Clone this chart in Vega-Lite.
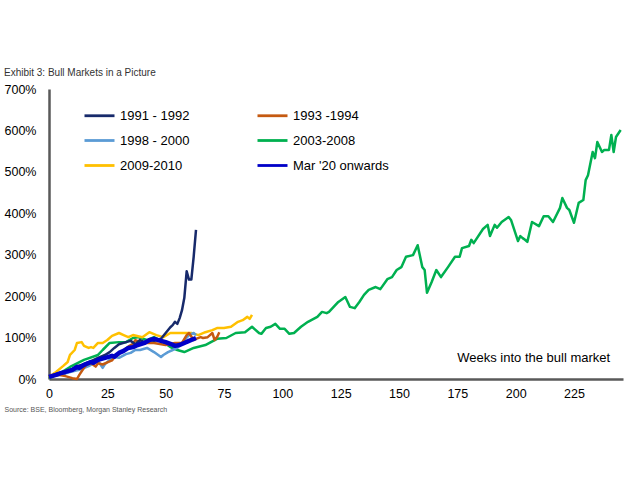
{
  "$schema": "https://vega.github.io/schema/vega-lite/v6.json",
  "width": 574,
  "height": 290,
  "autosize": {"type": "none"},
  "padding": {"left": 49, "top": 89, "right": 17, "bottom": 99},
  "background": "white",
  "title": {"text": "Exhibit 3:  Bull Markets in a Picture", "anchor": "start", "frame": "bounds", "offset": 5, "fontSize": 10, "fontWeight": "normal", "color": "#333333", "font": "Liberation Sans"},
  "config": {"view": {"stroke": null}, "font": "Liberation Sans"},
  "datasets": {
    "lines": [
      {"s":"2003-2008","w":0,"v":2},{"s":"2003-2008","w":5,"v":15},{"s":"2003-2008","w":9,"v":29},{"s":"2003-2008","w":15,"v":46},{"s":"2003-2008","w":21,"v":58},{"s":"2003-2008","w":23,"v":70},{"s":"2003-2008","w":26,"v":87},{"s":"2003-2008","w":30,"v":89},{"s":"2003-2008","w":33,"v":89},{"s":"2003-2008","w":36,"v":99},{"s":"2003-2008","w":38,"v":101},{"s":"2003-2008","w":42,"v":94},{"s":"2003-2008","w":45,"v":101},{"s":"2003-2008","w":49,"v":89},{"s":"2003-2008","w":52,"v":77},{"s":"2003-2008","w":55,"v":70},{"s":"2003-2008","w":58,"v":65},{"s":"2003-2008","w":62,"v":75},{"s":"2003-2008","w":67,"v":82},{"s":"2003-2008","w":72,"v":97},{"s":"2003-2008","w":76,"v":99},{"s":"2003-2008","w":80,"v":111},{"s":"2003-2008","w":84,"v":113},{"s":"2003-2008","w":87,"v":126},{"s":"2003-2008","w":90,"v":111},{"s":"2003-2008","w":91,"v":109},{"s":"2003-2008","w":93,"v":123},{"s":"2003-2008","w":95,"v":126},{"s":"2003-2008","w":97,"v":133},{"s":"2003-2008","w":99,"v":121},{"s":"2003-2008","w":101,"v":121},{"s":"2003-2008","w":103,"v":109},{"s":"2003-2008","w":105,"v":111},{"s":"2003-2008","w":108,"v":126},{"s":"2003-2008","w":111,"v":138},{"s":"2003-2008","w":115,"v":150},{"s":"2003-2008","w":117,"v":162},{"s":"2003-2008","w":119,"v":159},{"s":"2003-2008","w":120,"v":162},{"s":"2003-2008","w":124,"v":186},{"s":"2003-2008","w":127,"v":198},{"s":"2003-2008","w":129,"v":174},{"s":"2003-2008","w":131,"v":171},{"s":"2003-2008","w":133,"v":186},{"s":"2003-2008","w":135,"v":203},{"s":"2003-2008","w":137,"v":215},{"s":"2003-2008","w":140,"v":222},{"s":"2003-2008","w":142,"v":217},{"s":"2003-2008","w":145,"v":241},{"s":"2003-2008","w":147,"v":246},{"s":"2003-2008","w":149,"v":263},{"s":"2003-2008","w":151,"v":270},{"s":"2003-2008","w":153,"v":295},{"s":"2003-2008","w":156,"v":299},{"s":"2003-2008","w":158,"v":323},{"s":"2003-2008","w":160,"v":270},{"s":"2003-2008","w":161,"v":263},{"s":"2003-2008","w":162,"v":208},{"s":"2003-2008","w":164,"v":234},{"s":"2003-2008","w":166,"v":263},{"s":"2003-2008","w":168,"v":246},{"s":"2003-2008","w":171,"v":270},{"s":"2003-2008","w":174,"v":295},{"s":"2003-2008","w":176,"v":295},{"s":"2003-2008","w":177,"v":316},{"s":"2003-2008","w":180,"v":321},{"s":"2003-2008","w":181,"v":336},{"s":"2003-2008","w":182,"v":328},{"s":"2003-2008","w":186,"v":362},{"s":"2003-2008","w":188,"v":372},{"s":"2003-2008","w":189,"v":345},{"s":"2003-2008","w":191,"v":372},{"s":"2003-2008","w":192,"v":365},{"s":"2003-2008","w":194,"v":379},{"s":"2003-2008","w":197,"v":391},{"s":"2003-2008","w":198,"v":384},{"s":"2003-2008","w":201,"v":333},{"s":"2003-2008","w":202,"v":345},{"s":"2003-2008","w":203,"v":340},{"s":"2003-2008","w":204,"v":336},{"s":"2003-2008","w":205,"v":331},{"s":"2003-2008","w":207,"v":379},{"s":"2003-2008","w":210,"v":369},{"s":"2003-2008","w":212,"v":393},{"s":"2003-2008","w":214,"v":393},{"s":"2003-2008","w":216,"v":379},{"s":"2003-2008","w":219,"v":413},{"s":"2003-2008","w":220,"v":437},{"s":"2003-2008","w":222,"v":413},{"s":"2003-2008","w":223,"v":408},{"s":"2003-2008","w":225,"v":377},{"s":"2003-2008","w":227,"v":425},{"s":"2003-2008","w":229,"v":432},{"s":"2003-2008","w":230,"v":480},{"s":"2003-2008","w":231,"v":492},{"s":"2003-2008","w":233,"v":548},{"s":"2003-2008","w":234,"v":533},{"s":"2003-2008","w":235,"v":572},{"s":"2003-2008","w":237,"v":548},{"s":"2003-2008","w":238,"v":553},{"s":"2003-2008","w":240,"v":553},{"s":"2003-2008","w":241,"v":589},{"s":"2003-2008","w":242,"v":548},{"s":"2003-2008","w":243,"v":584},{"s":"2003-2008","w":245,"v":601},

      {"s":"2009-2010","w":0,"v":5},{"s":"2009-2010","w":3,"v":17},{"s":"2009-2010","w":6,"v":31},{"s":"2009-2010","w":8,"v":41},{"s":"2009-2010","w":9,"v":58},{"s":"2009-2010","w":11,"v":70},{"s":"2009-2010","w":12,"v":87},{"s":"2009-2010","w":14,"v":89},{"s":"2009-2010","w":15,"v":80},{"s":"2009-2010","w":17,"v":75},{"s":"2009-2010","w":18,"v":77},{"s":"2009-2010","w":19,"v":75},{"s":"2009-2010","w":21,"v":87},{"s":"2009-2010","w":23,"v":87},{"s":"2009-2010","w":25,"v":94},{"s":"2009-2010","w":27,"v":104},{"s":"2009-2010","w":30,"v":111},{"s":"2009-2010","w":32,"v":106},{"s":"2009-2010","w":34,"v":101},{"s":"2009-2010","w":36,"v":106},{"s":"2009-2010","w":40,"v":101},{"s":"2009-2010","w":43,"v":113},{"s":"2009-2010","w":46,"v":106},{"s":"2009-2010","w":49,"v":101},{"s":"2009-2010","w":52,"v":111},{"s":"2009-2010","w":55,"v":111},{"s":"2009-2010","w":58,"v":111},{"s":"2009-2010","w":61,"v":111},{"s":"2009-2010","w":64,"v":106},{"s":"2009-2010","w":67,"v":113},{"s":"2009-2010","w":70,"v":118},{"s":"2009-2010","w":72,"v":123},{"s":"2009-2010","w":75,"v":123},{"s":"2009-2010","w":78,"v":126},{"s":"2009-2010","w":81,"v":138},{"s":"2009-2010","w":83,"v":142},{"s":"2009-2010","w":85,"v":150},{"s":"2009-2010","w":86,"v":145},{"s":"2009-2010","w":87,"v":155},

      {"s":"1998 - 2000","w":0,"v":5},{"s":"1998 - 2000","w":5,"v":10},{"s":"1998 - 2000","w":9,"v":17},{"s":"1998 - 2000","w":13,"v":22},{"s":"1998 - 2000","w":17,"v":31},{"s":"1998 - 2000","w":20,"v":41},{"s":"1998 - 2000","w":21,"v":44},{"s":"1998 - 2000","w":23,"v":27},{"s":"1998 - 2000","w":24,"v":36},{"s":"1998 - 2000","w":26,"v":46},{"s":"1998 - 2000","w":28,"v":53},{"s":"1998 - 2000","w":30,"v":51},{"s":"1998 - 2000","w":33,"v":60},{"s":"1998 - 2000","w":35,"v":63},{"s":"1998 - 2000","w":37,"v":70},{"s":"1998 - 2000","w":39,"v":70},{"s":"1998 - 2000","w":42,"v":75},{"s":"1998 - 2000","w":45,"v":65},{"s":"1998 - 2000","w":48,"v":53},{"s":"1998 - 2000","w":49,"v":58},{"s":"1998 - 2000","w":51,"v":65},{"s":"1998 - 2000","w":53,"v":70},{"s":"1998 - 2000","w":55,"v":75},{"s":"1998 - 2000","w":57,"v":87},{"s":"1998 - 2000","w":58,"v":94},{"s":"1998 - 2000","w":60,"v":106},{"s":"1998 - 2000","w":62,"v":111},{"s":"1998 - 2000","w":63,"v":106},

      {"s":"1993 -1994","w":0,"v":5},{"s":"1993 -1994","w":4,"v":10},{"s":"1993 -1994","w":7,"v":7},{"s":"1993 -1994","w":10,"v":2},{"s":"1993 -1994","w":12,"v":0},{"s":"1993 -1994","w":13,"v":10},{"s":"1993 -1994","w":15,"v":27},{"s":"1993 -1994","w":16,"v":34},{"s":"1993 -1994","w":18,"v":38},{"s":"1993 -1994","w":20,"v":30},{"s":"1993 -1994","w":21,"v":38},{"s":"1993 -1994","w":23,"v":35},{"s":"1993 -1994","w":25,"v":40},{"s":"1993 -1994","w":27,"v":45},{"s":"1993 -1994","w":28,"v":52},{"s":"1993 -1994","w":30,"v":60},{"s":"1993 -1994","w":32,"v":70},{"s":"1993 -1994","w":34,"v":78},{"s":"1993 -1994","w":36,"v":85},{"s":"1993 -1994","w":37,"v":94},{"s":"1993 -1994","w":39,"v":89},{"s":"1993 -1994","w":41,"v":87},{"s":"1993 -1994","w":45,"v":87},{"s":"1993 -1994","w":50,"v":82},{"s":"1993 -1994","w":54,"v":87},{"s":"1993 -1994","w":57,"v":87},{"s":"1993 -1994","w":59,"v":106},{"s":"1993 -1994","w":60,"v":111},{"s":"1993 -1994","w":62,"v":94},{"s":"1993 -1994","w":63,"v":97},{"s":"1993 -1994","w":65,"v":101},{"s":"1993 -1994","w":66,"v":99},{"s":"1993 -1994","w":68,"v":101},{"s":"1993 -1994","w":69,"v":106},{"s":"1993 -1994","w":70,"v":111},{"s":"1993 -1994","w":71,"v":94},{"s":"1993 -1994","w":72,"v":101},{"s":"1993 -1994","w":73,"v":113},

      {"s":"1991 - 1992","w":0,"v":5},{"s":"1991 - 1992","w":3,"v":12},{"s":"1991 - 1992","w":7,"v":17},{"s":"1991 - 1992","w":10,"v":24},{"s":"1991 - 1992","w":12,"v":31},{"s":"1991 - 1992","w":15,"v":36},{"s":"1991 - 1992","w":18,"v":43},{"s":"1991 - 1992","w":21,"v":51},{"s":"1991 - 1992","w":24,"v":58},{"s":"1991 - 1992","w":26,"v":65},{"s":"1991 - 1992","w":28,"v":75},{"s":"1991 - 1992","w":30,"v":84},{"s":"1991 - 1992","w":33,"v":89},{"s":"1991 - 1992","w":35,"v":92},{"s":"1991 - 1992","w":37,"v":84},{"s":"1991 - 1992","w":39,"v":94},{"s":"1991 - 1992","w":41,"v":89},{"s":"1991 - 1992","w":43,"v":94},{"s":"1991 - 1992","w":45,"v":92},{"s":"1991 - 1992","w":48,"v":97},{"s":"1991 - 1992","w":50,"v":111},{"s":"1991 - 1992","w":52,"v":125},{"s":"1991 - 1992","w":53,"v":130},{"s":"1991 - 1992","w":54,"v":138},{"s":"1991 - 1992","w":55,"v":133},{"s":"1991 - 1992","w":56,"v":147},{"s":"1991 - 1992","w":57,"v":166},{"s":"1991 - 1992","w":58,"v":196},{"s":"1991 - 1992","w":59,"v":260},{"s":"1991 - 1992","w":60,"v":240},{"s":"1991 - 1992","w":61,"v":240},{"s":"1991 - 1992","w":62,"v":295},{"s":"1991 - 1992","w":63,"v":360},

      {"s":"Mar '20 onwards","w":0,"v":5},{"s":"Mar '20 onwards","w":3,"v":10},{"s":"Mar '20 onwards","w":5,"v":14},{"s":"Mar '20 onwards","w":7,"v":17},{"s":"Mar '20 onwards","w":10,"v":22},{"s":"Mar '20 onwards","w":12,"v":29},{"s":"Mar '20 onwards","w":13,"v":27},{"s":"Mar '20 onwards","w":15,"v":34},{"s":"Mar '20 onwards","w":18,"v":41},{"s":"Mar '20 onwards","w":19,"v":39},{"s":"Mar '20 onwards","w":21,"v":46},{"s":"Mar '20 onwards","w":24,"v":51},{"s":"Mar '20 onwards","w":27,"v":56},{"s":"Mar '20 onwards","w":28,"v":54},{"s":"Mar '20 onwards","w":30,"v":63},{"s":"Mar '20 onwards","w":32,"v":68},{"s":"Mar '20 onwards","w":34,"v":75},{"s":"Mar '20 onwards","w":36,"v":77},{"s":"Mar '20 onwards","w":38,"v":82},{"s":"Mar '20 onwards","w":41,"v":87},{"s":"Mar '20 onwards","w":43,"v":94},{"s":"Mar '20 onwards","w":45,"v":97},{"s":"Mar '20 onwards","w":48,"v":92},{"s":"Mar '20 onwards","w":50,"v":89},{"s":"Mar '20 onwards","w":52,"v":85},{"s":"Mar '20 onwards","w":54,"v":80},{"s":"Mar '20 onwards","w":56,"v":82},{"s":"Mar '20 onwards","w":58,"v":87},{"s":"Mar '20 onwards","w":60,"v":92},{"s":"Mar '20 onwards","w":63,"v":99}
    ],
    "notes": [{"w": 240.5, "v": 51, "t": "Weeks into the bull market"}]
  },
  "layer": [
    {
      "data": {"name": "lines"},
      "mark": {"type": "line", "strokeJoin": "round"},
      "encoding": {
        "x": {"field": "w", "type": "quantitative", "scale": {"domain": [0, 246], "nice": false, "zero": false},
          "axis": {"values": [0, 25, 50, 75, 100, 125, 150, 175, 200, 225], "ticks": false, "grid": false, "domainColor": "#595959", "domainWidth": 2.5, "labelFontSize": 12.5, "labelColor": "#000000", "labelPadding": 8, "labelFlush": false,
            "title": "Source: BSE, Bloomberg, Morgan Stanley Research", "titleAnchor": "start", "titleX": -45, "titleY": 30, "titleFontSize": 7, "titleFontWeight": "normal", "titleColor": "#555555", "titleBaseline": "middle", "titleAlign": "left"}},
        "y": {"field": "v", "type": "quantitative", "scale": {"domain": [0, 700], "nice": false},
          "axis": {"values": [0, 100, 200, 300, 400, 500, 600, 700], "labelExpr": "datum.value + '%'", "ticks": false, "grid": false, "domainColor": "#595959", "domainWidth": 2.5, "labelFontSize": 12.5, "labelColor": "#000000", "labelPadding": 13, "title": null}},
        "color": {"field": "s", "type": "nominal",
          "scale": {"domain": ["1991 - 1992", "1998 - 2000", "2009-2010", "1993 -1994", "2003-2008", "Mar '20 onwards"], "range": ["#172a6b", "#5b9bd5", "#ffc000", "#c55a11", "#00b050", "#0000c8"]},
          "legend": {"title": null, "orient": "none", "legendX": 34, "legendY": 10, "columns": 2, "columnPadding": 61, "rowPadding": 1, "symbolType": "stroke", "symbolSize": 900, "symbolStrokeWidth": 2.8, "labelFontSize": 13, "labelColor": "#000000", "labelOffset": 4, "padding": 0}},
        "strokeWidth": {"condition": {"test": "datum.s === \"Mar '20 onwards\"", "value": 4.5}, "value": 2.5}
      }
    },
    {
      "data": {"name": "notes"},
      "mark": {"type": "text", "align": "right", "baseline": "middle", "fontSize": 13, "color": "#000000"},
      "encoding": {
        "x": {"field": "w", "type": "quantitative"},
        "y": {"field": "v", "type": "quantitative"},
        "text": {"field": "t"}
      }
    }
  ]
}
